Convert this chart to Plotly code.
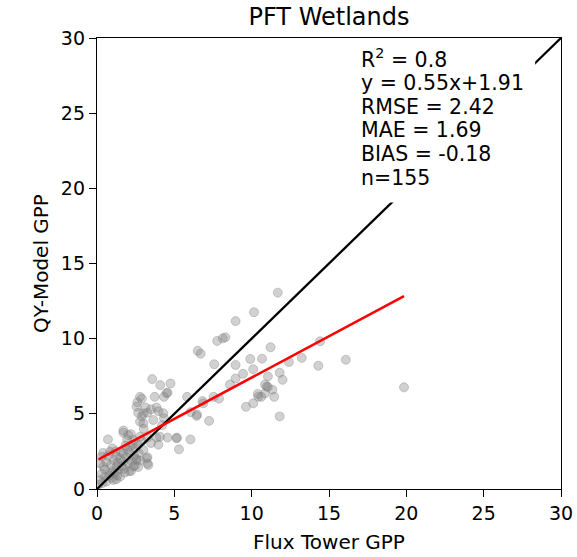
import plotly.graph_objects as go

# ---- data ----
flux_tower_gpp = [
    11.69, 10.15, 8.96, 8.30, 8.13, 7.77, 6.51, 6.70, 11.22, 14.43,
    16.09, 13.24, 12.41, 14.31, 19.85, 9.91, 10.67, 10.10, 8.96, 7.58,
    9.44, 8.96, 8.60, 11.81, 12.00, 11.05, 10.86, 11.05, 11.34, 10.86,
    11.46, 10.39, 10.62, 10.10, 9.63, 11.81, 7.54, 7.89, 6.82, 6.47,
    7.25, 6.06, 5.82, 5.16, 6.04, 5.30, 4.75, 4.09, 3.57, 4.56,
    4.33, 3.73, 2.78, 2.90, 2.61, 3.14, 3.49, 3.85, 3.97, 3.26,
    2.66, 2.90, 2.78, 3.02, 4.33, 4.21, 4.56, 3.85, 3.97, 3.26,
    3.49, 1.71, 2.19, 1.95, 2.31, 0.71, 3.26, 3.26, 2.54, 2.66,
    2.07, 2.56, 3.00, 4.29, 4.50, 3.64, 3.00, 4.07, 5.15, 6.44,
    6.87, 10.97, 10.43, 1.70, 2.02, 2.35, 2.78, 3.21, 3.32, 2.57,
    2.35, 1.70, 1.27, 0.84, 0.41, 0.52, 1.05, 1.49, 0.20, 1.70,
    2.13, 0.84, 0.30, 1.27, 0.10, 0.30, 0.50, 0.60, 0.70, 0.90,
    1.00, 1.10, 1.20, 1.30, 1.40, 1.50, 1.60, 1.80, 1.90, 2.00,
    2.10, 2.20, 2.40, 2.50, 2.70, 2.80, 3.00, 0.20, 0.40, 0.60,
    0.80, 1.00, 1.15, 1.35, 1.55, 1.75, 1.95, 2.25, 2.45, 2.65,
    2.90, 1.85, 0.95, 0.35, 1.25,
]
qy_model_gpp = [
    13.06, 11.76, 11.17, 10.09, 10.02, 9.85, 9.19, 9.00, 9.43, 9.83,
    8.60, 8.72, 8.44, 8.20, 6.76, 8.65, 8.67, 7.97, 8.25, 8.30,
    7.66, 7.35, 6.95, 7.73, 7.26, 7.49, 6.95, 6.79, 6.60, 6.36,
    6.13, 6.32, 6.13, 5.70, 5.47, 4.83, 6.13, 6.01, 5.85, 4.95,
    4.53, 5.11, 6.13, 3.42, 3.30, 2.64, 7.02, 6.91, 7.31, 6.41,
    6.13, 6.13, 6.13, 6.01, 5.77, 5.42, 5.30, 5.42, 5.18, 5.07,
    5.07, 4.83, 4.48, 4.01, 4.71, 4.24, 3.42, 3.42, 2.95, 3.42,
    3.06, 3.89, 3.65, 3.30, 2.95, 3.30, 2.12, 1.70, 2.00, 1.46,
    1.18, 5.48, 5.03, 5.04, 6.37, 4.59, 4.37, 3.48, 3.37, 4.86,
    5.70, 6.81, 6.14, 3.75, 3.59, 3.26, 3.48, 2.04, 1.60, 1.93,
    1.49, 1.82, 1.49, 1.04, 1.49, 0.82, 0.60, 0.82, 0.60, 2.37,
    2.81, 2.48, 2.15, 2.15, 0.30, 1.00, 1.30, 1.80, 2.20, 1.60,
    1.20, 1.90, 2.50, 0.90, 1.30, 2.00, 1.50, 1.10, 2.10, 1.70,
    2.40, 1.20, 2.20, 2.70, 2.40, 1.90, 2.60, 1.70, 2.40, 0.50,
    0.90, 2.70, 1.05, 1.75, 2.45, 1.35, 2.65, 1.85, 1.55, 2.95,
    3.20, 2.90, 0.75, 0.40, 0.65,
]

# statistics shown in the reference
r2 = 0.8
slope = 0.55
intercept = 1.91
rmse = 2.42
mae = 1.69
bias = -0.18
n_points = 155

axis_range = [0, 30]
tick_values = [0, 5, 10, 15, 20, 25, 30]

FONT = "DejaVu Sans"

# ---- figure ----
fig = go.Figure()

fig.add_trace(go.Scatter(
    x=flux_tower_gpp, y=qy_model_gpp, mode="markers",
    marker=dict(color="rgba(128,128,128,0.36)", size=9,
                line=dict(width=1, color="rgba(128,128,128,0.36)")),
    showlegend=False, hoverinfo="x+y",
))

# 1:1 line
fig.add_trace(go.Scatter(
    x=axis_range, y=axis_range, mode="lines",
    line=dict(color="black", width=2.3), showlegend=False,
))

# regression line
x_fit = [min(flux_tower_gpp), max(flux_tower_gpp)]
y_fit = [slope * v + intercept for v in x_fit]
fig.add_trace(go.Scatter(
    x=x_fit, y=y_fit, mode="lines",
    line=dict(color="red", width=2.6), showlegend=False,
))

# white box behind the statistics text (hides part of the 1:1 line)
fig.add_shape(type="rect", xref="x", yref="y",
              x0=16.2, x1=28.33, y0=19.05, y1=29.85,
              fillcolor="white", line=dict(width=0), layer="above")

stats_lines = [
    f"R<sup>2</sup> = {r2}",
    f"y = {slope}x+{intercept}",
    f"RMSE = {rmse}",
    f"MAE = {mae}",
    f"BIAS = {bias}",
    f"n={n_points}",
]
# place each line separately (matplotlib-like line spacing)
plot_top_px, plot_h_px = 38, 451
first_center_px, line_step_px = 59.0, 23.8
for i, line in enumerate(stats_lines):
    px = first_center_px + i * line_step_px
    y_paper = 1 - (px - plot_top_px) / plot_h_px
    fig.add_annotation(
        x=16.95, y=y_paper, xref="x", yref="paper",
        xanchor="left", yanchor="middle", align="left",
        text=line, showarrow=False,
        font=dict(family=FONT, size=20.5, color="black"),
    )

axis_common = dict(
    range=axis_range, tickvals=tick_values,
    showline=True, linecolor="black", linewidth=1.3, mirror=True,
    ticks="outside", ticklen=7, tickwidth=1.3, tickcolor="black",
    showgrid=False, zeroline=False,
    tickfont=dict(family=FONT, size=19, color="black"),
    automargin=False,
)

fig.update_layout(
    width=577, height=557, autosize=False,
    margin=dict(l=97, r=16, t=38, b=68),
    paper_bgcolor="white", plot_bgcolor="white",
    title=dict(text="PFT Wetlands", x=0.5, xref="paper", xanchor="center",
               y=1 - 17 / 557, yref="container", yanchor="middle",
               font=dict(family=FONT, size=24, color="black")),
    xaxis=dict(**axis_common,
               title=dict(text="Flux Tower GPP", standoff=12,
                          font=dict(family=FONT, size=20, color="black"))),
    yaxis=dict(**axis_common,
               title=dict(text="QY-Model GPP", standoff=6,
                          font=dict(family=FONT, size=20, color="black"))),
)

fig.write_html("out.html")
